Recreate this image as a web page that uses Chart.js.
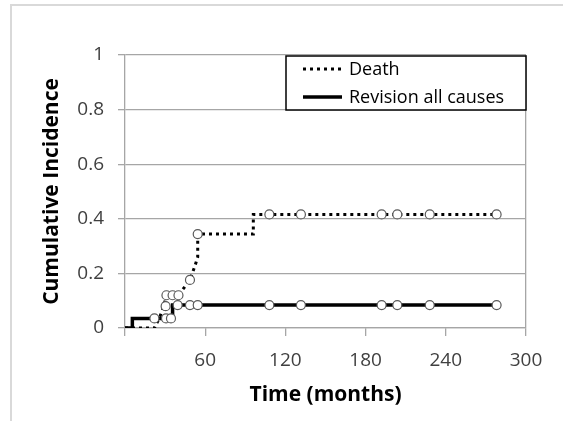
<!DOCTYPE html>
<html>
<head>
<meta charset="utf-8">
<script src="https://cdn.jsdelivr.net/npm/chart.js@4.4.1/dist/chart.umd.min.js"></script>
<style>
  html, body { margin: 0; padding: 0; background: #fff; }
  #wrap { position: relative; width: 563px; height: 421px; }
</style>
</head>
<body>
<div id="wrap"><canvas id="chart" width="563" height="421"></canvas></div>
<script>
// step curves (time in months, cumulative incidence)
const deathTime = [0, 22, 26, 29, 31, 40, 48.6, 52.5, 54.4, 54.4, 96, 96, 278];
const deathCI   = [0, 0, 0.04, 0.08, 0.12, 0.12, 0.176, 0.23, 0.26, 0.344, 0.344, 0.416, 0.416];
const revisionTime = [0, 5.5, 5.5, 35.6, 35.6, 278];
const revisionCI   = [0, 0, 0.035, 0.035, 0.084, 0.084];

// censoring markers
const deathMarkTime = [30.4, 31, 35.6, 40, 48.6, 54.4, 108, 131.6, 192, 203.7, 228, 278];
const deathMarkCI   = [0.08, 0.12, 0.12, 0.12, 0.176, 0.344, 0.416, 0.416, 0.416, 0.416, 0.416, 0.416];
const revisionMarkTime = [22, 30.7, 34.4, 39.4, 48.6, 54.4, 108, 131.6, 192, 203.7, 228, 278];
const revisionMarkCI   = [0.035, 0.035, 0.035, 0.084, 0.084, 0.084, 0.084, 0.084, 0.084, 0.084, 0.084, 0.084];

const seriesNames = ['Death', 'Revision all causes'];
const xTicks = [0, 60, 120, 180, 240, 300];
const yTicks = [0, 0.2, 0.4, 0.6, 0.8, 1];

const pts = (xs, ys) => xs.map((x, i) => ({ x: x, y: ys[i] }));

const markerStyle = {
    showLine: false,
    pointRadius: 4.5,
    pointBackgroundColor: '#fff',
    pointBorderColor: '#595959',
    pointBorderWidth: 1.2,
    order: 0
};

// page frame + legend box drawn by hand
const framePlugin = {
    id: 'frame',
    beforeDraw(chart) {
        const ctx = chart.ctx;
        ctx.save();
        ctx.strokeStyle = '#d9d9d9';
        ctx.lineWidth = 2;
        ctx.beginPath();
        ctx.moveTo(563, 5);
        ctx.lineTo(11, 5);
        ctx.lineTo(11, 421);
        ctx.stroke();
        ctx.restore();
    },
    afterDraw(chart) {
        const ctx = chart.ctx;
        const a = chart.chartArea;
        const w = 240, h = 54;
        const left = a.right - w, top = a.top + 1;
        ctx.save();
        ctx.fillStyle = '#fff';
        ctx.fillRect(left, top, w, h);
        ctx.strokeStyle = '#000';
        ctx.lineWidth = 1.5;
        ctx.strokeRect(left, top, w, h);
        const rows = [chart.data.datasets[0], chart.data.datasets[1]];
        rows.forEach((ds, i) => {
            const y = top + 13 + i * 28;
            ctx.beginPath();
            ctx.strokeStyle = ds.borderColor;
            ctx.lineWidth = ds.borderWidth;
            ctx.setLineDash(ds.borderDash || []);
            ctx.moveTo(left + 17, y);
            ctx.lineTo(left + 56, y);
            ctx.stroke();
            ctx.setLineDash([]);
            ctx.fillStyle = '#000';
            ctx.font = '18px "Open Sans"';
            ctx.textBaseline = 'middle';
            ctx.fillText(ds.label, left + 63, y + 1);
        });
        ctx.restore();
    }
};

new Chart(document.getElementById('chart'), {
    type: 'scatter',
    data: {
        datasets: [
            {
                label: seriesNames[0],
                data: pts(deathTime, deathCI),
                showLine: true,
                borderColor: '#000',
                borderWidth: 3,
                borderDash: [3, 4],
                pointRadius: 0,
                order: 1
            },
            {
                label: seriesNames[1],
                data: pts(revisionTime, revisionCI),
                showLine: true,
                borderColor: '#000',
                borderWidth: 3.5,
                pointRadius: 0,
                order: 1
            },
            Object.assign({ label: 'deathMarks', data: pts(deathMarkTime, deathMarkCI) }, markerStyle),
            Object.assign({ label: 'revisionMarks', data: pts(revisionMarkTime, revisionMarkCI) }, markerStyle)
        ]
    },
    options: {
        responsive: false,
        animation: false,
        layout: { padding: { top: 55, right: 37, left: 0, bottom: 0 } },
        plugins: {
            legend: { display: false },
            tooltip: { enabled: false }
        },
        scales: {
            x: {
                type: 'linear',
                min: 0,
                max: 300,
                afterBuildTicks: (scale) => { scale.ticks = xTicks.map(v => ({ value: v })); },
                afterFit: (scale) => { scale.height = 93; },
                grid: {
                    color: (c) => (c.tick && c.tick.value === 300 ? '#a6a6a6' : 'rgba(0,0,0,0)'),
                    tickColor: '#a6a6a6',
                    tickLength: 8,
                    lineWidth: 1.3
                },
                border: { color: '#a6a6a6', width: 1.3 },
                ticks: {
                    color: '#404040',
                    font: { family: 'Open Sans', size: 19 },
                    padding: 13,
                    maxRotation: 0,
                    callback: (v) => (v === 0 ? '' : String(v))
                },
                title: {
                    display: true,
                    text: 'Time (months)',
                    color: '#000',
                    font: { family: 'Open Sans', size: 21, weight: 'bold' },
                    padding: { top: 0, bottom: 13 }
                }
            },
            y: {
                min: 0,
                max: 1,
                afterBuildTicks: (scale) => { scale.ticks = yTicks.map(v => ({ value: v })); },
                afterFit: (scale) => { scale.width = 125; },
                grid: {
                    color: '#a6a6a6',
                    tickLength: 7,
                    lineWidth: 1.3
                },
                border: { color: '#a6a6a6', width: 1.3 },
                ticks: {
                    color: '#404040',
                    font: { family: 'Open Sans', size: 19 },
                    padding: 14,
                    callback: (v) => String(v)
                },
                title: {
                    display: true,
                    text: 'Cumulative Incidence',
                    color: '#000',
                    font: { family: 'Open Sans', size: 21, weight: 'bold' },
                    padding: { top: 39, bottom: 0 }
                }
            }
        }
    },
    plugins: [framePlugin]
});
</script>
</body>
</html>
